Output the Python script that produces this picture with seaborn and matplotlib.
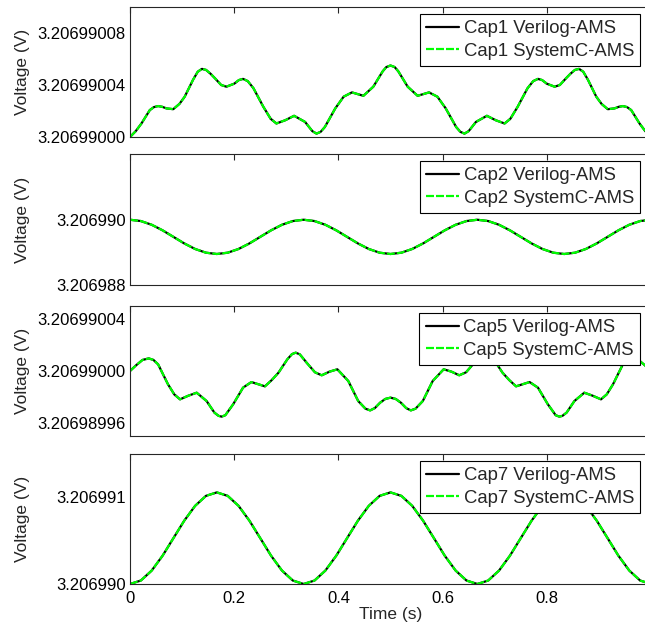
import numpy as np
import pandas as pd
import matplotlib
matplotlib.use("Agg")
import matplotlib.pyplot as plt
import seaborn as sns
from matplotlib.ticker import FormatStrFormatter

# Cap1 / Cap5: offsets from base voltage, in units of 1e-8 V
cap1_t = [0.000, 0.011, 0.022, 0.038, 0.046, 0.054, 0.062, 0.070, 0.083, 0.095,
          0.105, 0.121, 0.130, 0.138, 0.146, 0.155, 0.163, 0.175, 0.185, 0.200,
          0.209, 0.217, 0.226, 0.237, 0.256, 0.270, 0.281, 0.298, 0.315, 0.336,
          0.350, 0.358, 0.366, 0.374, 0.394, 0.410, 0.426, 0.448, 0.467, 0.485,
          0.492, 0.500, 0.508, 0.515, 0.533, 0.552, 0.574, 0.590, 0.606, 0.626,
          0.634, 0.642, 0.650, 0.664, 0.685, 0.702, 0.719, 0.730, 0.744, 0.763,
          0.774, 0.783, 0.791, 0.800, 0.815, 0.825, 0.837, 0.845, 0.854, 0.862,
          0.870, 0.879, 0.895, 0.905, 0.917, 0.930, 0.938, 0.946, 0.954, 0.962,
          0.978, 0.989, 1.000]
cap1_v = [0.00, 0.45, 1.04, 2.07, 2.30, 2.38, 2.32, 2.20, 2.14, 2.55,
          3.10, 4.40, 5.02, 5.24, 5.16, 4.85, 4.52, 4.00, 3.87, 4.10,
          4.38, 4.47, 4.30, 3.75, 2.32, 1.40, 1.04, 1.29, 1.63, 1.16,
          0.45, 0.26, 0.40, 0.77, 2.20, 3.10, 3.43, 3.17, 3.87, 5.05,
          5.38, 5.50, 5.38, 5.05, 3.87, 3.17, 3.43, 3.10, 2.20, 0.77,
          0.40, 0.26, 0.45, 1.16, 1.63, 1.29, 1.04, 1.40, 2.32, 3.75,
          4.30, 4.47, 4.38, 4.10, 3.87, 4.00, 4.52, 4.85, 5.16, 5.24,
          5.02, 4.40, 3.10, 2.55, 2.14, 2.20, 2.32, 2.38, 2.30, 2.07,
          1.04, 0.45, 0.00]

cap5_t = [0.000, 0.012, 0.024, 0.036, 0.045, 0.054, 0.073, 0.085, 0.096, 0.112,
          0.128, 0.147, 0.162, 0.170, 0.176, 0.183, 0.198, 0.217, 0.233, 0.259,
          0.272, 0.285, 0.302, 0.311, 0.318, 0.326, 0.339, 0.355, 0.368, 0.383,
          0.398, 0.419, 0.438, 0.452, 0.461, 0.470, 0.480, 0.490, 0.500, 0.510,
          0.520, 0.530, 0.539, 0.548, 0.562, 0.581, 0.602, 0.617, 0.632, 0.645,
          0.661, 0.674, 0.682, 0.689, 0.698, 0.715, 0.728, 0.741, 0.767, 0.783,
          0.802, 0.817, 0.824, 0.830, 0.838, 0.853, 0.872, 0.888, 0.904, 0.915,
          0.927, 0.946, 0.955, 0.964, 0.976, 0.988, 1.000]
cap5_v = [0.00, 0.45, 0.85, 0.97, 0.85, 0.51, -1.03, -1.80, -2.18, -1.90,
          -1.67, -2.31, -3.20, -3.45, -3.51, -3.40, -2.56, -1.28, -0.85, -1.18,
          -0.70, -0.13, 0.90, 1.30, 1.41, 1.28, 0.64, -0.10, -0.33, -0.05,
          0.13, -0.77, -2.31, -2.90, -3.03, -2.85, -2.44, -2.15, -2.05, -2.15,
          -2.44, -2.85, -3.03, -2.90, -2.31, -0.77, 0.13, -0.05, -0.33, -0.10,
          0.64, 1.28, 1.41, 1.30, 0.90, -0.13, -0.70, -1.18, -0.85, -1.28,
          -2.56, -3.40, -3.51, -3.45, -3.20, -2.31, -1.67, -1.90, -2.18, -1.80,
          -1.03, 0.51, 0.85, 0.97, 0.85, 0.45, 0.00]

# Cap2 / Cap7: offsets from 3.206990 V, in units of 1e-6 V, sampled every 1/48 s
wave_t = np.linspace(0, 1, 49)
cap2_v = [0.000, -0.040, -0.154, -0.324, -0.525, -0.726, -0.896, -1.010, -1.050,
          -1.010, -0.896, -0.726, -0.525, -0.324, -0.154, -0.040,
          0.000, -0.040, -0.154, -0.324, -0.525, -0.726, -0.896, -1.010, -1.050,
          -1.010, -0.896, -0.726, -0.525, -0.324, -0.154, -0.040,
          0.000, -0.040, -0.154, -0.324, -0.525, -0.726, -0.896, -1.010, -1.050,
          -1.010, -0.896, -0.726, -0.525, -0.324, -0.154, -0.040, 0.000]
cap7_v = [0.000, 0.040, 0.155, 0.326, 0.529, 0.731, 0.902, 1.017, 1.057,
          1.017, 0.902, 0.731, 0.529, 0.326, 0.155, 0.040,
          0.000, 0.040, 0.155, 0.326, 0.529, 0.731, 0.902, 1.017, 1.057,
          1.017, 0.902, 0.731, 0.529, 0.326, 0.155, 0.040,
          0.000, 0.040, 0.155, 0.326, 0.529, 0.731, 0.902, 1.017, 1.057,
          1.017, 0.902, 0.731, 0.529, 0.326, 0.155, 0.040, 0.000]

base = 3.20699
panels = [
    ("Cap1", cap1_t, cap1_v, 1e-8, (0, 10), [0, 4, 8], "%.8f"),
    ("Cap2", wave_t, cap2_v, 1e-6, (-2, 2.015), [-2, 0], "%.6f"),
    ("Cap5", cap5_t, cap5_v, 1e-8, (-5, 5), [-4, 0, 4], "%.8f"),
    ("Cap7", wave_t, cap7_v, 1e-6, (0, 1.5), [0, 1], "%.6f"),
]
x_ticks = [0, 0.2, 0.4, 0.6, 0.8]

sns.set_theme(style="white")
plt.rcParams['font.family'] = ['Liberation Sans', 'DejaVu Sans']

fig = plt.figure(figsize=(6.45, 6.31), dpi=100)
W, H = 645.0, 631.0
left_px, right_px = 130, 651
rows_px = [(7, 137), (154, 285), (306, 436), (454, 584)]

for i, (name, t, v, unit, ylim, yt, fmt) in enumerate(panels):
    top, bot = rows_px[i]
    ax = fig.add_axes([left_px / W, 1 - bot / H, (right_px - left_px) / W, (bot - top) / H])
    df = pd.DataFrame({"t": t, "v": base + np.array(v) * unit})
    sns.lineplot(data=df, x="t", y="v", ax=ax, color="black", linewidth=1.6,
                 label=f"{name} Verilog-AMS", sort=False)
    sns.lineplot(data=df, x="t", y="v", ax=ax, color="#00ff00", linewidth=1.6,
                 label=f"{name} SystemC-AMS", sort=False)
    ax.lines[1].set_dashes((3.6, 0.9))

    ax.set_xlim(0, 1)
    ax.set_ylim(base + ylim[0] * unit, base + ylim[1] * unit)
    ax.set_yticks([base + y * unit for y in yt])
    ax.yaxis.set_major_formatter(FormatStrFormatter(fmt))
    ax.set_xticks(x_ticks)
    ax.tick_params(direction="in", length=4, width=0.8, top=True, right=True,
                   labelsize=12, colors="#262626", labelcolor="black")
    ax.tick_params(axis="y", pad=3)
    ax.tick_params(axis="x", pad=5)
    for s in ax.spines.values():
        s.set_color("#262626")
        s.set_linewidth(0.8)
        s.set_visible(True)

    ax.set_ylabel("Voltage (V)", fontsize=12.5)
    ax.yaxis.set_label_coords(-0.192, 0.5)
    if i < 3:
        ax.set_xticklabels([])
        ax.set_xlabel("")
    else:
        ax.xaxis.set_major_formatter(FormatStrFormatter("%g"))
        ax.set_xlabel("Time (s)", fontsize=12.5, labelpad=1)

    leg = ax.legend(loc="upper right", bbox_to_anchor=(0.979, 0.945), borderaxespad=0,
                    fontsize=13.3, frameon=True, fancybox=False, framealpha=1,
                    edgecolor="black", borderpad=0.33, labelspacing=0.3,
                    handlelength=1.8, handletextpad=0.25)
    leg.get_frame().set_linewidth(0.8)

fig.savefig("out.png", dpi=100)
